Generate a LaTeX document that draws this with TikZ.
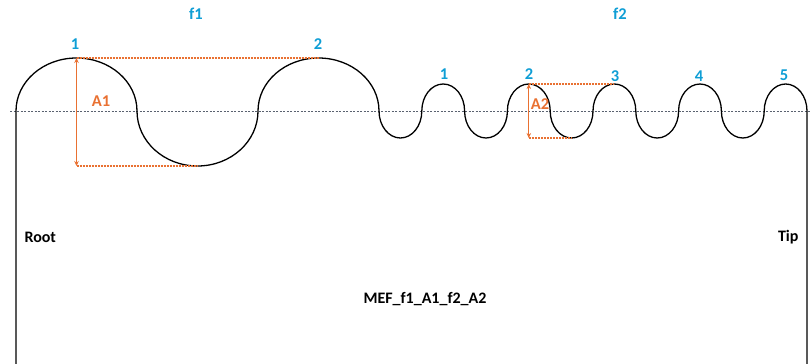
\documentclass[tikz,border=0pt]{standalone}
\usepackage{fontspec}
\setmainfont{Carlito}
\usetikzlibrary{arrows.meta}
\definecolor{cblue}{HTML}{0F9ED5}
\definecolor{corange}{HTML}{E97132}
\definecolor{cgray}{HTML}{5A6270}
\begin{document}
\begin{tikzpicture}[x=1pt,y=1pt,
  wave/.style={draw=black,line width=1.3pt},
  axisline/.style={draw=cgray,line width=0.8pt,dash pattern=on 2.2pt off 1.3pt},
  guide/.style={draw=corange,line width=1.1pt,dash pattern=on 2pt off 1pt},
  dim/.style={draw=corange,line width=1.2pt,{Stealth[length=5pt,width=4.5pt]}-{Stealth[length=5pt,width=4.5pt]}},
  bluelbl/.style={text=cblue,font=\fontsize{16.5}{16.5}\selectfont\bfseries},
  orangelbl/.style={text=corange,font=\fontsize{16.5}{16.5}\selectfont\bfseries},
  blacklbl/.style={text=black,font=\fontsize{16}{16}\selectfont\bfseries}]
\useasboundingbox (0,0) rectangle (811,-364);
% centerline
\coordinate (cl) at (10,-111);
\coordinate (cr) at (811,-111);
\draw[axisline] (cl) -- (cr);
% profile
\coordinate (rootbot) at (16,-364);
\coordinate (tipbot) at (807,-364);
\draw[wave] (rootbot) -- (16,-111)
  arc[start angle=180,end angle=0,x radius=60.5pt,y radius=53pt]
  arc[start angle=180,end angle=360,x radius=60.5pt,y radius=55pt]
  arc[start angle=180,end angle=0,x radius=60.5pt,y radius=53pt]
  arc[start angle=180,end angle=360,x radius=21.4pt,y radius=27pt]
  arc[start angle=180,end angle=0,x radius=21.4pt,y radius=27pt]
  arc[start angle=180,end angle=360,x radius=21.4pt,y radius=27pt]
  arc[start angle=180,end angle=0,x radius=21.4pt,y radius=27pt]
  arc[start angle=180,end angle=360,x radius=21.4pt,y radius=27pt]
  arc[start angle=180,end angle=0,x radius=21.4pt,y radius=27pt]
  arc[start angle=180,end angle=360,x radius=21.4pt,y radius=27pt]
  arc[start angle=180,end angle=0,x radius=21.4pt,y radius=27pt]
  arc[start angle=180,end angle=360,x radius=21.4pt,y radius=27pt]
  arc[start angle=180,end angle=0,x radius=21.4pt,y radius=27pt]
  -- (tipbot);
% A1 dimension
\coordinate (a1top) at (76.5,-58);
\coordinate (a1bot) at (76.5,-166);
\coordinate (pk2) at (318.5,-58);
\coordinate (tr1) at (197.5,-166);
\draw[guide] (a1top) -- (pk2);
\draw[guide] (a1bot) -- (tr1);
\draw[dim] (a1top) -- (a1bot);
% A2 dimension
\coordinate (a2top) at (528.8,-84);
\coordinate (a2bot) at (528.8,-138);
\coordinate (spk3) at (614.4,-84);
\coordinate (str) at (571.6,-138);
\draw[guide] (a2top) -- (spk3);
\draw[guide] (a2bot) -- (str);
\draw[dim] (a2top) -- (a2bot);
% labels
\node[bluelbl] (f1) at (196,-14) {f1};
\node[bluelbl] (f2) at (620,-14) {f2};
\node[bluelbl] (b1) at (75,-44) {1};
\node[bluelbl] (b2) at (318,-44) {2};
\node[bluelbl] (s1) at (444,-74) {1};
\node[bluelbl] (s2) at (529,-74) {2};
\node[bluelbl] (s3) at (615,-76) {3};
\node[bluelbl] (s4) at (699,-76) {4};
\node[bluelbl] (s5) at (784,-75) {5};
\node[orangelbl] (A1) at (101,-101) {A1};
\node[orangelbl] (A2) at (540,-104) {A2};
\node[blacklbl,anchor=west] (root) at (21,-237) {Root};
\node[blacklbl,anchor=east] (tip) at (802,-237) {Tip};
\node[blacklbl] (mef) at (425,-299) {MEF\_f1\_A1\_f2\_A2};
\end{tikzpicture}
\end{document}
